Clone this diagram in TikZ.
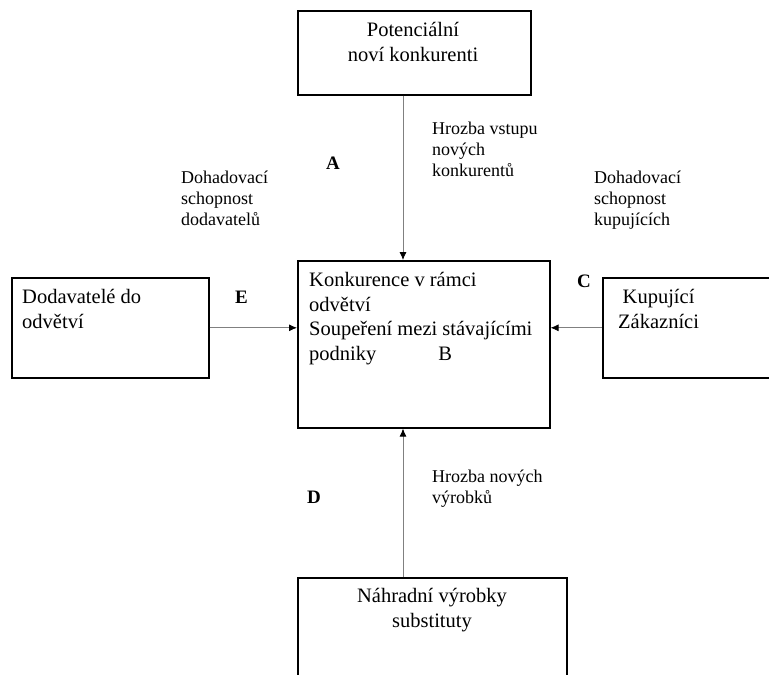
\documentclass[tikz,border=0pt]{standalone}
\usepackage{fontspec}
\setmainfont{Liberation Serif}
\usepackage{tikz}
\usetikzlibrary{arrows.meta}
\tikzstyle{box} = [rectangle, draw=black, line width=1.6pt, inner sep=0pt, anchor=north west]
\tikzstyle{boxtext} = [inner sep=0pt, align=left, anchor=base west, font=\fontsize{20.5}{24.5}\selectfont]
\tikzstyle{note} = [inner sep=0pt, align=left, anchor=base west, font=\fontsize{18}{21}\selectfont]
\tikzstyle{letter} = [inner sep=0pt, anchor=base west, font=\fontsize{19}{22}\selectfont\bfseries]
\tikzstyle{arrow} = [line width=0.8pt, draw=black!50, -{Latex[length=8pt, width=7pt, color=black]}]

\begin{document}
\begin{tikzpicture}[x=1pt, y=-1pt]
  \clip (0,0) rectangle (769,675);
  % boxes
  \node (potencialni) [box, minimum width=233pt, minimum height=84pt] at (297,10) {};
  \node (konkurence)  [box, minimum width=252pt, minimum height=167pt] at (297,260) {};
  \node (dodavatele)  [box, minimum width=197pt, minimum height=100pt] at (11,277) {};
  \node (kupujici)    [box, minimum width=200pt, minimum height=100pt] at (602,277) {};
  \node (nahradni)    [box, minimum width=269pt, minimum height=150pt] at (297,577) {};

  % texts in the boxes (placed by the baseline of their last line)
  \node (potencialnitext) [boxtext, align=center, anchor=base] at (413,61) {Potenciální\\noví konkurenti};
  \node (konkurencetext)  [boxtext] at (309,360) {Konkurence v rámci\\odvětví\\Soupeření mezi stávajícími\\podniky\hspace{62pt}B};
  \node (dodavateletext)  [boxtext] at (22,328) {Dodavatelé do\\odvětví};
  \node (kupujicitext)    [boxtext, align=center] at (618,328) {Kupující\\Zákazníci};
  \node (nahradnitext)    [boxtext, align=center, anchor=base] at (432,627) {Náhradní výrobky\\substituty};

  % labels
  \node (hrozbavstupu) [note] at (432,176) {Hrozba vstupu\\nových\\konkurentů};
  \node (dohadovacid)  [note] at (181,225) {Dohadovací\\schopnost\\dodavatelů};
  \node (dohadovacik)  [note] at (594,225) {Dohadovací\\schopnost\\kupujících};
  \node (hrozbanovych) [note] at (432,503) {Hrozba nových\\výrobků};

  \node (a) [letter] at (326,169) {A};
  \node (c) [letter] at (577,287) {C};
  \node (d) [letter] at (307,503) {D};
  \node (e) [letter] at (235,303) {E};

  % connectors
  \coordinate (axis) at (403,0);
  \draw [arrow] (axis |- potencialni.south) -- (axis |- konkurence.north);
  \draw [arrow] (axis |- nahradni.north) -- (axis |- konkurence.south);
  \draw [arrow] (dodavatele.east) -- (dodavatele.east -| konkurence.west);
  \draw [arrow] (kupujici.west) -- (kupujici.west -| konkurence.east);
\end{tikzpicture}
\end{document}
